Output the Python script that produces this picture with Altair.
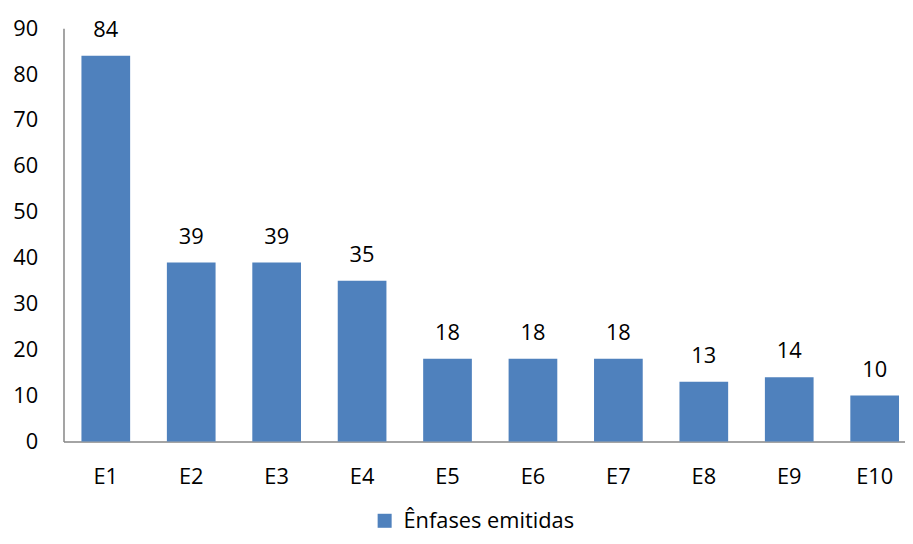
import altair as alt
import pandas as pd

categories = ["E1", "E2", "E3", "E4", "E5", "E6", "E7", "E8", "E9", "E10"]
values = [84, 39, 39, 35, 18, 18, 18, 13, 14, 10]
series_name = "Ênfases emitidas"
y_ticks = [0, 10, 20, 30, 40, 50, 60, 70, 80, 90]

df = pd.DataFrame({"cat": categories, "val": values, "serie": [series_name] * len(categories)})

FONT = "Open Sans"
AXIS_COLOR = "#868686"
BAR_COLOR = "#4F81BD"

x = alt.X(
    "cat:N",
    sort=categories,
    scale=alt.Scale(paddingInner=0.43, paddingOuter=0.14, align=0.75),
    axis=alt.Axis(
        title=None, labelAngle=0, ticks=False, grid=False, domainColor=AXIS_COLOR, domainWidth=1.5,
        labelFont=FONT, labelFontSize=22, labelColor="#000000", labelPadding=25,
    ),
)
y = alt.Y(
    "val:Q",
    scale=alt.Scale(domain=[0, 90], nice=False),
    axis=alt.Axis(
        title=None, values=y_ticks, ticks=False, grid=False, domainColor=AXIS_COLOR, domainWidth=1.5,
        labelFont=FONT, labelFontSize=22, labelColor="#000000", labelPadding=26,
    ),
)

bars = alt.Chart(df).mark_bar().encode(
    x=x,
    y=y,
    color=alt.Color(
        "serie:N",
        scale=alt.Scale(range=[BAR_COLOR]),
        legend=alt.Legend(
            title=None, orient="none", legendX=313, legendY=486, direction="horizontal",
            symbolType="square", symbolSize=200, symbolStrokeWidth=0, symbolOpacity=1,
            labelFont=FONT, labelFontSize=22, labelColor="#000000", labelOffset=8,
            labelLimit=400, padding=0,
        ),
    ),
)

labels = alt.Chart(df).mark_text(
    font=FONT, fontSize=22, color="#000000", baseline="alphabetic", dy=-19
).encode(
    x=alt.X("cat:N", sort=categories),
    y=alt.Y("val:Q"),
    text="val:Q",
)

chart = (
    alt.layer(bars, labels)
    .properties(
        width=849,
        height=417,
        background="#ffffff",
        autosize=alt.AutoSizeParams(type="none"),
        padding={"left": 56, "top": 18, "right": 0, "bottom": 93},
    )
    .configure_view(strokeWidth=0, stroke="transparent")
    .configure_axis(grid=False)
)

chart.save("out.html", embed_options={"renderer": "svg", "actions": False})
